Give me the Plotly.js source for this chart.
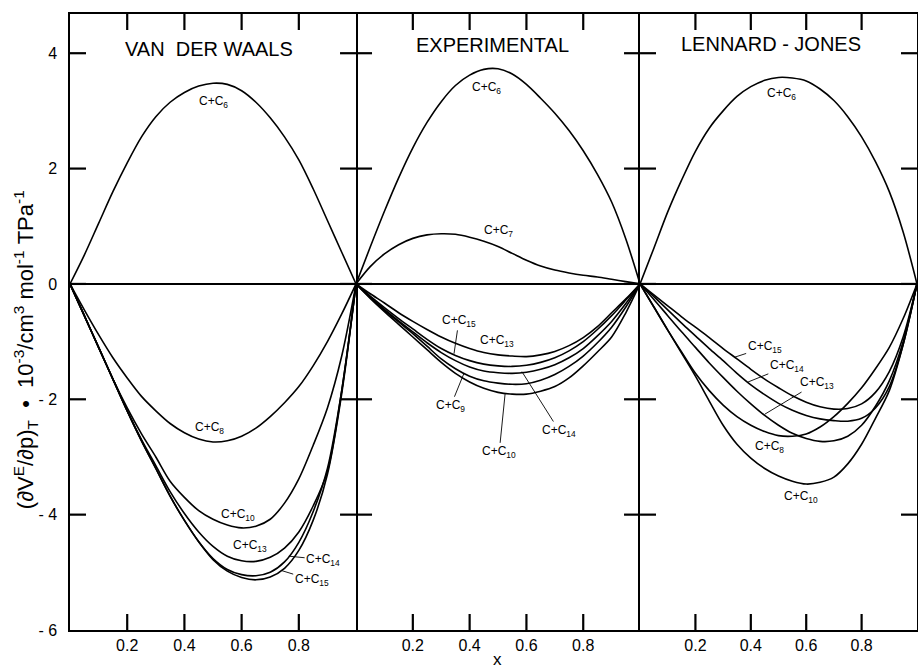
<!DOCTYPE html>
<html>
<head>
<meta charset="utf-8">
<script src="https://cdn.plot.ly/plotly-3.0.1.min.js"></script>
<style>html,body{margin:0;padding:0;background:#fff;}#chart{width:918px;height:672px;}</style>
</head>
<body>
<div id="chart"></div>
<script>
// ---------- data ----------
const panelTitles = ["VAN  DER WAALS", "EXPERIMENTAL", "LENNARD - JONES"];
const xTickVals = [0.2, 0.4, 0.6, 0.8];
const xTickText = ["0.2", "0.4", "0.6", "0.8"];
const yTickVals = [-6, -4, -2, 0, 2, 4];
const yTickText = ["- 6", "- 4", "- 2", "0", "2", "4"];
const yRange = [-6, 4.68];

// mole fraction grid
const xGrid = [0,0.05,0.1,0.15,0.2,0.25,0.3,0.35,0.4,0.45,0.5,0.55,0.6,0.65,0.7,0.75,0.8,0.85,0.9,0.95,1];

// Van der Waals panel
const vdwC6  = [0,0.5,1.05,1.6,2.1,2.55,2.9,3.15,3.32,3.43,3.48,3.46,3.35,3.15,2.88,2.55,2.15,1.65,1.1,0.55,0];
const vdwC8  = [0,-0.45,-0.88,-1.28,-1.63,-1.95,-2.2,-2.42,-2.58,-2.69,-2.74,-2.72,-2.64,-2.5,-2.3,-2.06,-1.78,-1.42,-1.0,-0.52,0];
const vdwC10 = [0,-0.55,-1.1,-1.65,-2.15,-2.6,-3.0,-3.42,-3.7,-3.93,-4.08,-4.18,-4.23,-4.2,-4.08,-3.8,-3.38,-2.8,-2.15,-1.25,0];
const vdwC13 = [0,-0.55,-1.1,-1.65,-2.2,-2.7,-3.15,-3.6,-3.98,-4.3,-4.55,-4.72,-4.8,-4.81,-4.74,-4.58,-4.3,-3.85,-3.25,-1.85,0];
const vdwC14 = [0,-0.55,-1.1,-1.65,-2.2,-2.72,-3.2,-3.68,-4.1,-4.47,-4.76,-4.95,-5.04,-5.06,-5.0,-4.82,-4.48,-3.95,-3.2,-1.85,0];
const vdwC15 = [0,-0.55,-1.1,-1.65,-2.2,-2.72,-3.2,-3.68,-4.1,-4.47,-4.78,-4.98,-5.09,-5.13,-5.08,-4.93,-4.62,-4.1,-3.3,-1.9,0];

// Experimental panel
const expC6  = [0,0.64,1.26,1.84,2.36,2.8,3.16,3.44,3.62,3.72,3.73,3.64,3.46,3.22,2.96,2.66,2.31,1.9,1.42,0.78,0];
const expC7  = [0,0.3,0.52,0.68,0.79,0.85,0.87,0.86,0.81,0.74,0.65,0.53,0.41,0.31,0.24,0.19,0.15,0.12,0.08,0.04,0];
const expC13 = [0,-0.17,-0.33,-0.5,-0.65,-0.79,-0.92,-1.03,-1.12,-1.19,-1.23,-1.25,-1.26,-1.23,-1.17,-1.07,-0.93,-0.74,-0.5,-0.26,0];
const expC15 = [0,-0.21,-0.41,-0.6,-0.78,-0.96,-1.12,-1.24,-1.33,-1.39,-1.42,-1.43,-1.41,-1.36,-1.28,-1.16,-1.0,-0.79,-0.55,-0.28,0];
const expC14 = [0,-0.23,-0.44,-0.64,-0.83,-1.02,-1.19,-1.33,-1.44,-1.51,-1.54,-1.55,-1.53,-1.48,-1.4,-1.28,-1.12,-0.9,-0.65,-0.34,0];
const expC9  = [0,-0.24,-0.46,-0.66,-0.86,-1.08,-1.3,-1.47,-1.6,-1.68,-1.72,-1.74,-1.73,-1.67,-1.57,-1.43,-1.25,-1.02,-0.75,-0.4,0];
const expC10 = [0,-0.25,-0.48,-0.7,-0.92,-1.14,-1.36,-1.55,-1.7,-1.81,-1.88,-1.91,-1.91,-1.86,-1.78,-1.63,-1.42,-1.18,-0.92,-0.5,0];

// Lennard-Jones panel
const ljC6  = [0,0.62,1.25,1.8,2.3,2.7,3.0,3.25,3.42,3.53,3.58,3.57,3.52,3.38,3.18,2.9,2.55,2.12,1.6,0.9,0];
const ljC8  = [0,-0.4,-0.8,-1.18,-1.55,-1.85,-2.1,-2.3,-2.45,-2.56,-2.63,-2.64,-2.6,-2.48,-2.3,-2.07,-1.8,-1.47,-1.1,-0.6,0];
const ljC10 = [0,-0.4,-0.8,-1.2,-1.6,-2.03,-2.45,-2.78,-3.02,-3.2,-3.33,-3.42,-3.47,-3.44,-3.35,-3.12,-2.78,-2.33,-1.85,-1.05,0];
const ljC13 = [0,-0.27,-0.55,-0.83,-1.1,-1.37,-1.62,-1.86,-2.08,-2.28,-2.45,-2.59,-2.68,-2.73,-2.72,-2.64,-2.45,-2.12,-1.68,-1.0,0];
const ljC14 = [0,-0.22,-0.45,-0.68,-0.9,-1.12,-1.33,-1.55,-1.75,-1.92,-2.07,-2.19,-2.28,-2.34,-2.37,-2.38,-2.33,-2.15,-1.78,-1.05,0];
const ljC15 = [0,-0.19,-0.38,-0.57,-0.75,-0.93,-1.12,-1.3,-1.48,-1.65,-1.8,-1.94,-2.05,-2.13,-2.17,-2.16,-2.08,-1.88,-1.52,-0.92,0];

// ---------- traces ----------
const lineStyle = {color: "#000", width: 1.6, shape: "spline", smoothing: 0.9};
function tr(y, xa, ya, name) {
  return {x: xGrid, y: y, xaxis: xa, yaxis: ya, name: name, mode: "lines", line: lineStyle, hoverinfo: "skip", showlegend: false};
}
const data = [
  tr(vdwC6, "x", "y", "C+C6"),
  tr(vdwC8, "x", "y", "C+C8"),
  tr(vdwC10, "x", "y", "C+C10"),
  tr(vdwC13, "x", "y", "C+C13"),
  tr(vdwC14, "x", "y", "C+C14"),
  tr(vdwC15, "x", "y", "C+C15"),
  tr(expC6, "x2", "y2", "C+C6"),
  tr(expC7, "x2", "y2", "C+C7"),
  tr(expC13, "x2", "y2", "C+C13"),
  tr(expC15, "x2", "y2", "C+C15"),
  tr(expC14, "x2", "y2", "C+C14"),
  tr(expC9, "x2", "y2", "C+C9"),
  tr(expC10, "x2", "y2", "C+C10"),
  tr(ljC6, "x3", "y3", "C+C6"),
  tr(ljC8, "x3", "y3", "C+C8"),
  tr(ljC10, "x3", "y3", "C+C10"),
  tr(ljC13, "x3", "y3", "C+C13"),
  tr(ljC14, "x3", "y3", "C+C14"),
  tr(ljC15, "x3", "y3", "C+C15")
];

// ---------- layout ----------
const FONT = "Liberation Sans, Arial, sans-serif";
function xAxis(domain, anchor) {
  return {domain: domain, range: [0, 1], anchor: anchor, tickmode: "array", tickvals: xTickVals, ticktext: xTickText,
    ticks: "", showline: true, linecolor: "#000", linewidth: 1.6, mirror: true,
    showgrid: false, zeroline: false, fixedrange: true,
    tickfont: {family: FONT, size: 16, color: "#000"}};
}
function yAxis(anchor, labels, line) {
  return {domain: [0, 1], range: yRange, anchor: anchor, tickmode: "array", tickvals: yTickVals, ticktext: yTickText,
    ticks: "", showline: line, linecolor: "#000", linewidth: 1.6, mirror: true,
    showgrid: false, zeroline: true, zerolinecolor: "#000", zerolinewidth: 1.5,
    showticklabels: labels, ticklabelstandoff: 8, fixedrange: true,
    tickfont: {family: FONT, size: 16, color: "#000"}};
}

// tick marks pointing into each panel, built from the tick value arrays (paper-space filled bars)
const shapes = [];
const doms = [[0, 0.3377], [0.3377, 0.673], [0.673, 1]];
const PW = 847, PH = 616, TL = 16, TW = 1.1;
function bar(x0, x1, y0, y1) {
  return {type: "rect", xref: "paper", yref: "paper", x0: x0, x1: x1, y0: y0, y1: y1,
    fillcolor: "#000", line: {width: 0}, layer: "above"};
}
doms.forEach(function (d) {
  xTickVals.forEach(function (v) {
    const px = d[0] + v * (d[1] - d[0]);
    shapes.push(bar(px - TW / PW, px + TW / PW, 0, TL / PH));
    shapes.push(bar(px - TW / PW, px + TW / PW, 1 - TL / PH, 1));
  });
  yTickVals.forEach(function (v) {
    if (v === yRange[0]) return;
    const py = (v - yRange[0]) / (yRange[1] - yRange[0]);
    shapes.push(bar(d[0], d[0] + TL / PW, py - TW / PH, py + TW / PH));
    shapes.push(bar(d[1] - TL / PW, d[1], py - TW / PH, py + TW / PH));
  });
});

function lab(text, x, y, xr, yr, tip) {
  const a = {text: text, x: x, y: y, xref: xr, yref: yr, showarrow: false,
    font: {family: FONT, size: 12, color: "#000"}, xanchor: "center", yanchor: "middle"};
  if (tip) {
    a.showarrow = true; a.ax = x; a.ay = y; a.axref = xr; a.ayref = yr;
    a.x = tip[0]; a.y = tip[1]; a.arrowhead = 0; a.arrowwidth = 0.9; a.arrowcolor = "#000";
    a.standoff = 0; a.startstandoff = 0;
  }
  return a;
}
function ttl(text, x, y, xr) {
  return {text: text, x: x, y: y, xref: xr, yref: "y", showarrow: false, xanchor: "center", yanchor: "middle",
    font: {family: FONT, size: 20, color: "#000"}};
}

const annotations = [
  ttl(panelTitles[0], 0.486, 4.07, "x"),
  ttl(panelTitles[1], 0.482, 4.14, "x2"),
  ttl(panelTitles[2], 0.472, 4.16, "x3"),
  lab("C+C<sub>6</sub>", 0.50, 3.15, "x", "y"),
  lab("C+C<sub>8</sub>", 0.488, -2.49, "x", "y"),
  lab("C+C<sub>10</sub>", 0.586, -4.0, "x", "y"),
  lab("C+C<sub>13</sub>", 0.628, -4.55, "x", "y"),
  lab("C+C<sub>14</sub>", 0.885, -4.78, "x", "y", [0.765, -4.72]),
  lab("C+C<sub>15</sub>", 0.845, -5.13, "x", "y", [0.74, -4.97]),
  lab("C+C<sub>6</sub>", 0.46, 3.39, "x2", "y2"),
  lab("C+C<sub>7</sub>", 0.50, 0.92, "x2", "y2"),
  lab("C+C<sub>15</sub>", 0.362, -0.64, "x2", "y2", [0.345, -1.21]),
  lab("C+C<sub>13</sub>", 0.495, -0.99, "x2", "y2"),
  lab("C+C<sub>14</sub>", 0.716, -2.55, "x2", "y2", [0.584, -1.52]),
  lab("C+C<sub>9</sub>", 0.333, -2.12, "x2", "y2", [0.38, -1.55]),
  lab("C+C<sub>10</sub>", 0.504, -2.92, "x2", "y2", [0.525, -1.9]),
  lab("C+C<sub>6</sub>", 0.51, 3.29, "x3", "y3"),
  lab("C+C<sub>15</sub>", 0.45, -1.1, "x3", "y3", [0.342, -1.27]),
  lab("C+C<sub>14</sub>", 0.53, -1.43, "x3", "y3", [0.39, -1.7]),
  lab("C+C<sub>13</sub>", 0.64, -1.71, "x3", "y3", [0.45, -2.26]),
  lab("C+C<sub>8</sub>", 0.468, -2.83, "x3", "y3"),
  lab("C+C<sub>10</sub>", 0.582, -3.69, "x3", "y3"),
  {text: "(∂V<sup>E</sup>/∂p)<sub>T</sub>\u00a0\u00a0•\u00a0\u00a010<sup>-3</sup>/cm<sup>3</sup>\u00a0mol<sup>-1</sup>\u00a0TPa<sup>-1</sup>",
   x: -0.053, y: 0.4545, xref: "paper", yref: "paper", textangle: -90, showarrow: false,
   xanchor: "center", yanchor: "middle", font: {family: FONT, size: 22, color: "#000"}},
  {text: "x", x: 0.505, y: -0.067, xref: "paper", yref: "paper", showarrow: false,
   xanchor: "center", yanchor: "bottom", font: {family: FONT, size: 17, color: "#000"}}
];

const layout = {
  width: 918, height: 672,
  margin: {l: 70, r: 1, t: 14, b: 42, pad: 0},
  paper_bgcolor: "#fff", plot_bgcolor: "#fff",
  showlegend: false,
  font: {family: FONT, color: "#000"},
  xaxis: xAxis(doms[0], "y"),
  xaxis2: xAxis(doms[1], "y2"),
  xaxis3: xAxis(doms[2], "y3"),
  yaxis: yAxis("x", true, true),
  yaxis2: yAxis("x2", false, false),
  yaxis3: yAxis("x3", false, true),
  shapes: shapes,
  annotations: annotations
};

Plotly.newPlot("chart", data, layout, {staticPlot: true, displayModeBar: false});
</script>
</body>
</html>
